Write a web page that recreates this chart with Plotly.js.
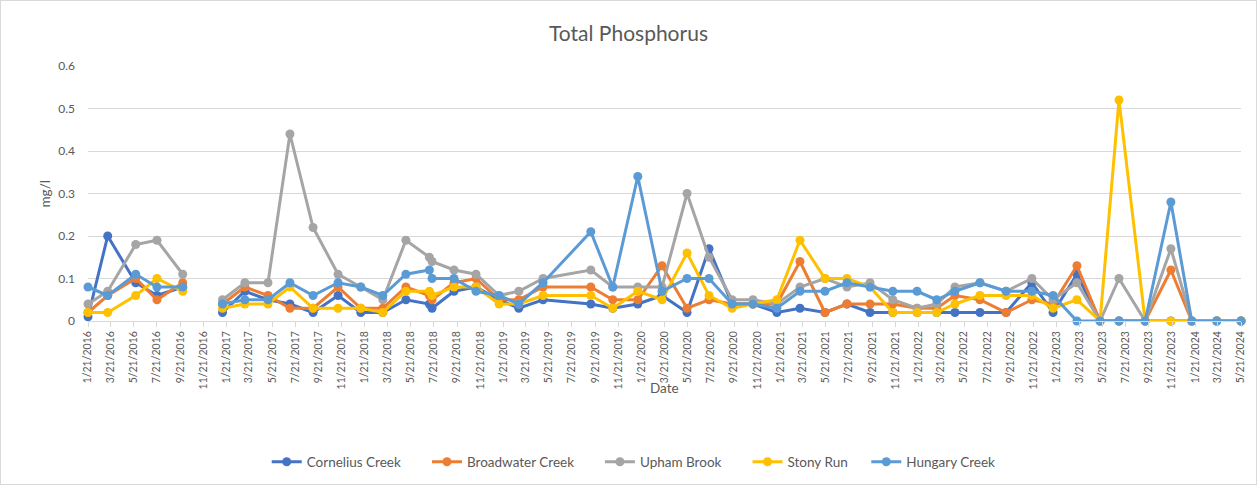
<!DOCTYPE html>
<html>
<head>
<meta charset="utf-8">
<script src="https://cdn.plot.ly/plotly-3.0.1.min.js"></script>
<style>
  html, body { margin: 0; padding: 0; background: #fff; }
  #chart { width: 1257px; height: 485px; box-sizing: border-box; border: 1px solid #d9d9d9; }
</style>
</head>
<body>
<div id="chart"></div>
<script>
// sample dates (the 11/2016 row is empty, that is the break in the lines)
let sampleDates = [
	'2016-01-21','2016-03-13','2016-05-26','2016-07-21','2016-09-27','2016-11-21',
	'2017-01-10','2017-03-10','2017-05-10','2017-07-07','2017-09-06','2017-11-11',
	'2018-01-10','2018-03-09','2018-05-09','2018-07-10','2018-07-17','2018-09-13','2018-11-10',
	'2019-01-10','2019-03-03','2019-05-06','2019-09-09','2019-11-06',
	'2020-01-11','2020-03-15','2020-05-20','2020-07-17','2020-09-16','2020-11-10',
	'2021-01-12','2021-03-14','2021-05-19','2021-07-16','2021-09-15','2021-11-14',
	'2022-01-17','2022-03-10','2022-04-27','2022-07-02','2022-09-09','2022-11-16',
	'2023-01-11','2023-03-15','2023-05-15','2023-07-04','2023-09-11','2023-11-18',
	'2024-01-12','2024-03-18','2024-05-21'
];

let cornelius = [0.01,0.20,0.09,0.06,0.08,null, 0.02,0.07,0.05,0.04,0.02,0.06,
	0.02,0.02,0.05,0.04,0.03,0.07,0.08, 0.05,0.03,0.05,0.04,0.03,
	0.04,0.06,0.02,0.17,0.04,0.04, 0.02,0.03,0.02,0.04,0.02,0.02,
	0.02,0.02,0.02,0.02,0.02,0.09, 0.02,0.11,0,0,0,0, 0,0,0];
let broadwater = [0.02,0.06,0.10,0.05,0.09,null, 0.04,0.08,0.06,0.03,0.03,0.08,
	0.03,0.03,0.08,0.06,0.05,0.09,0.10, 0.05,0.05,0.08,0.08,0.05,
	0.05,0.13,0.03,0.05,0.04,0.04, 0.04,0.14,0.02,0.04,0.04,0.04,
	0.03,0.03,0.06,0.05,0.02,0.05, 0.04,0.13,0,0,0,0.12, 0,0,0];
let upham = [0.04,0.07,0.18,0.19,0.11,null, 0.05,0.09,0.09,0.44,0.22,0.11,
	0.08,0.05,0.19,0.15,0.14,0.12,0.11, 0.06,0.07,0.10,0.12,0.08,
	0.08,0.08,0.30,0.15,0.05,0.05, 0.04,0.08,0.10,0.08,0.09,0.05,
	0.03,0.04,0.08,0.09,0.07,0.10, 0.05,0.09,0,0.10,0,0.17, 0,0,0];
let stony = [0.02,0.02,0.06,0.10,0.07,null, 0.03,0.04,0.04,0.08,0.03,0.03,
	0.03,0.02,0.07,0.07,0.06,0.08,0.08, 0.04,0.04,0.06,0.06,0.03,
	0.07,0.05,0.16,0.06,0.03,0.04, 0.05,0.19,0.10,0.10,0.08,0.02,
	0.02,0.02,0.04,0.06,0.06,0.06, 0.03,0.05,0,0.52,0,0, 0,0,0];
let hungary = [0.08,0.06,0.11,0.08,0.08,null, 0.04,0.05,0.05,0.09,0.06,0.09,
	0.08,0.06,0.11,0.12,0.10,0.10,0.07, 0.06,0.04,0.09,0.21,0.08,
	0.34,0.07,0.10,0.10,0.04,0.04, 0.03,0.07,0.07,0.09,0.08,0.07,
	0.07,0.05,0.07,0.09,0.07,0.07, 0.06,0,0,0,0,0.28, 0,0,0];

let seriesNames = ['Cornelius Creek', 'Broadwater Creek', 'Upham Brook', 'Stony Run', 'Hungary Creek'];
let seriesColors = ['#4472C4', '#ED7D31', '#A5A5A5', '#FFC000', '#5B9BD5'];
let seriesValues = [cornelius, broadwater, upham, stony, hungary];

// axis ticks every 2 months from 1/21/2016 to 5/21/2024
let tickDates = [];
let tickLabels = [];
for (let y = 2016; y <= 2024; y++) {
	for (let m = 1; m <= 11; m += 2) {
		if (y == 2024 && m > 5) break;
		tickDates.push(y + '-' + (m < 10 ? '0' + m : m) + '-21');
		tickLabels.push(m + '/21/' + y);
	}
}

let font = 'Lato, "Open Sans", sans-serif';
let grey = '#595959';

// one legend per series so each entry sits where Excel put it
let legendX = [0.155, 0.294, 0.444, 0.572, 0.675];

let traces = [];
for (let i = 0; i < seriesNames.length; i++) {
	traces.push({
		x: sampleDates,
		y: seriesValues[i],
		name: seriesNames[i],
		type: 'scatter',
		mode: 'lines+markers',
		connectgaps: false,
		cliponaxis: false,
		legend: i == 0 ? 'legend' : 'legend' + (i + 1),
		line: {color: seriesColors[i], width: 3},
		marker: {color: seriesColors[i], size: 9}
	});
}

let layout = {
	width: 1255,
	height: 483,
	margin: {l: 87, r: 15, t: 65, b: 163, autoexpand: false},
	paper_bgcolor: '#fff',
	plot_bgcolor: '#fff',
	font: {family: font, color: grey, size: 12},
	showlegend: true,
	title: {text: 'Total Phosphorus', x: 0.5, xanchor: 'center', y: 0.932, yanchor: 'middle',
		font: {family: font, size: 21, color: grey}},
	xaxis: {
		type: 'date',
		range: ['2016-01-21', '2024-05-21'],
		tickmode: 'array',
		tickvals: tickDates,
		ticktext: tickLabels,
		tickangle: -90,
		ticks: 'outside',
		ticklen: 5,
		tickcolor: '#d9d9d9',
		showgrid: false,
		showline: true,
		linecolor: '#d9d9d9',
		zeroline: false,
		tickfont: {family: font, size: 10.5, color: grey}
	},
	yaxis: {
		range: [0, 0.6],
		tickvals: [0, 0.1, 0.2, 0.3, 0.4, 0.5, 0.6],
		ticktext: ['0', '0.1', '0.2', '0.3', '0.4', '0.5', '0.6'],
		showgrid: true,
		gridcolor: '#d9d9d9',
		gridwidth: 1,
		zeroline: false,
		showline: false,
		ticks: '',
		ticklabelstandoff: 12,
		tickfont: {family: font, size: 12, color: grey}
	},
	annotations: [
		{text: 'Date', xref: 'paper', yref: 'paper', x: 0.5, y: -0.263, xanchor: 'center', yanchor: 'middle',
			showarrow: false, font: {family: font, size: 13.5, color: grey}},
		{text: 'mg/l', xref: 'paper', yref: 'paper', x: -0.0373, y: 0.5, xanchor: 'center', yanchor: 'middle',
			textangle: -90, showarrow: false, font: {family: font, size: 13.5, color: grey}}
	]
};

for (let i = 0; i < seriesNames.length; i++) {
	let key = i == 0 ? 'legend' : 'legend' + (i + 1);
	layout[key] = {
		orientation: 'h',
		x: legendX[i],
		xanchor: 'left',
		y: -0.553,
		yanchor: 'middle',
		bgcolor: 'rgba(0,0,0,0)',
		font: {family: font, size: 13.5, color: grey},
		itemwidth: 30
	};
}

Plotly.newPlot('chart', traces, layout, {displayModeBar: false, staticPlot: true});
</script>
</body>
</html>
